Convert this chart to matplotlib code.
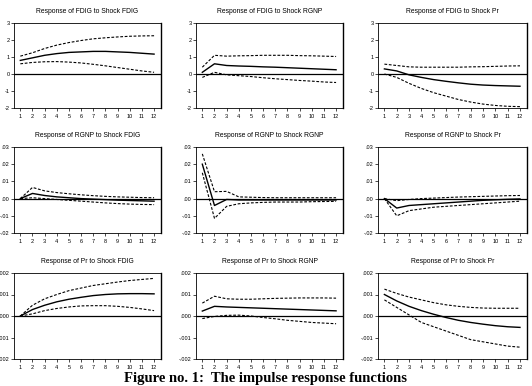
import numpy as np
import matplotlib
matplotlib.use("Agg")
import matplotlib.pyplot as plt

periods = list(range(1, 13))

# (response, shock) -> response, upper band, lower band
fdig_fdig = [0.80, 0.95, 1.10, 1.20, 1.27, 1.30, 1.33, 1.33, 1.30, 1.27, 1.22, 1.17]
fdig_fdig_up = [1.05, 1.25, 1.50, 1.70, 1.85, 1.97, 2.07, 2.13, 2.18, 2.22, 2.24, 2.25]
fdig_fdig_lo = [0.60, 0.68, 0.72, 0.73, 0.70, 0.65, 0.57, 0.48, 0.38, 0.28, 0.18, 0.10]

fdig_rgnp = [0.10, 0.60, 0.50, 0.47, 0.45, 0.42, 0.40, 0.37, 0.34, 0.31, 0.28, 0.25]
fdig_rgnp_up = [0.40, 1.10, 1.05, 1.07, 1.08, 1.10, 1.10, 1.10, 1.08, 1.07, 1.05, 1.03]
fdig_rgnp_lo = [-0.20, 0.10, -0.05, -0.10, -0.15, -0.22, -0.28, -0.33, -0.38, -0.42, -0.47, -0.50]

fdig_pr = [0.30, 0.18, -0.05, -0.20, -0.33, -0.43, -0.52, -0.60, -0.65, -0.68, -0.70, -0.72]
fdig_pr_up = [0.58, 0.50, 0.42, 0.40, 0.40, 0.40, 0.40, 0.42, 0.43, 0.45, 0.47, 0.48]
fdig_pr_lo = [0.00, -0.20, -0.55, -0.85, -1.10, -1.30, -1.50, -1.65, -1.77, -1.85, -1.90, -1.92]

rgnp_fdig = [0.0, 0.0030, 0.0018, 0.0010, 0.0005, 0.0, -0.0003, -0.0006, -0.0009, -0.0011, -0.0013, -0.0015]
rgnp_fdig_up = [0.0, 0.0065, 0.0045, 0.0035, 0.0028, 0.0022, 0.0017, 0.0013, 0.0010, 0.0008, 0.0006, 0.0005]
rgnp_fdig_lo = [0.0, 0.0005, 0.0, -0.0005, -0.0010, -0.0015, -0.0020, -0.0025, -0.0029, -0.0032, -0.0034, -0.0035]

rgnp_rgnp = [0.020, -0.0040, -0.0005, -0.0008, -0.0008, -0.0008, -0.0008, -0.0008, -0.0008, -0.0008, -0.0008, -0.0008]
rgnp_rgnp_up = [0.026, 0.0040, 0.0042, 0.0010, 0.0008, 0.0006, 0.0005, 0.0005, 0.0005, 0.0005, 0.0005, 0.0005]
rgnp_rgnp_lo = [0.015, -0.0115, -0.0045, -0.0030, -0.0025, -0.0022, -0.0020, -0.0020, -0.0020, -0.0018, -0.0017, -0.0016]

rgnp_pr = [0.0, -0.0055, -0.0040, -0.0035, -0.0030, -0.0025, -0.0020, -0.0015, -0.0010, -0.0007, -0.0004, -0.0002]
rgnp_pr_up = [0.0, -0.0012, -0.0005, 0.0, 0.0003, 0.0006, 0.0009, 0.0011, 0.0013, 0.0015, 0.0017, 0.0018]
rgnp_pr_lo = [0.0, -0.0100, -0.0070, -0.0060, -0.0050, -0.0045, -0.0040, -0.0035, -0.0030, -0.0025, -0.0020, -0.0015]

pr_fdig = [0.0, 0.00030, 0.00050, 0.00066, 0.00078, 0.00087, 0.00095, 0.00100, 0.00103, 0.00104, 0.00104, 0.00103]
pr_fdig_up = [0.0, 0.00050, 0.00080, 0.00100, 0.00118, 0.00130, 0.00142, 0.00150, 0.00158, 0.00165, 0.00170, 0.00175]
pr_fdig_lo = [0.0, 0.00010, 0.00025, 0.00035, 0.00042, 0.00047, 0.00048, 0.00048, 0.00045, 0.00040, 0.00033, 0.00025]

pr_rgnp = [0.00023, 0.00045, 0.00042, 0.00040, 0.00038, 0.00036, 0.00034, 0.00032, 0.00030, 0.00028, 0.00026, 0.00024]
pr_rgnp_up = [0.00060, 0.00092, 0.00080, 0.00078, 0.00078, 0.00080, 0.00082, 0.00083, 0.00084, 0.00084, 0.00084, 0.00083]
pr_rgnp_lo = [-0.00012, -0.00002, 0.00003, 0.00004, 0.0, -0.00007, -0.00013, -0.00020, -0.00025, -0.00030, -0.00033, -0.00036]

pr_pr = [0.00100, 0.00070, 0.00045, 0.00025, 0.00008, -0.00007, -0.00020, -0.00030, -0.00038, -0.00045, -0.00050, -0.00053]
pr_pr_up = [0.00125, 0.00105, 0.00088, 0.00075, 0.00062, 0.00052, 0.00045, 0.00040, 0.00037, 0.00036, 0.00036, 0.00036]
pr_pr_lo = [0.00075, 0.00040, 0.00005, -0.00030, -0.00050, -0.00070, -0.00090, -0.00110, -0.00120, -0.00130, -0.00140, -0.00145]

titles = [
    ["Response of FDIG to Shock FDIG", "Response of FDIG to Shock RGNP", "Response of FDIG to Shock Pr"],
    ["Response of RGNP to Shock FDIG", "Response of RGNP to Shock RGNP", "Response of RGNP to Shock Pr"],
    ["Response of Pr to Shock FDIG", "Response of Pr to Shock RGNP", "Response of Pr to Shock Pr"],
]
series = [
    [(fdig_fdig, fdig_fdig_up, fdig_fdig_lo), (fdig_rgnp, fdig_rgnp_up, fdig_rgnp_lo), (fdig_pr, fdig_pr_up, fdig_pr_lo)],
    [(rgnp_fdig, rgnp_fdig_up, rgnp_fdig_lo), (rgnp_rgnp, rgnp_rgnp_up, rgnp_rgnp_lo), (rgnp_pr, rgnp_pr_up, rgnp_pr_lo)],
    [(pr_fdig, pr_fdig_up, pr_fdig_lo), (pr_rgnp, pr_rgnp_up, pr_rgnp_lo), (pr_pr, pr_pr_up, pr_pr_lo)],
]
row_ticks = [
    [-2, -1, 0, 1, 2, 3],
    [-0.02, -0.01, 0.0, 0.01, 0.02, 0.03],
    [-0.002, -0.001, 0.0, 0.001, 0.002],
]
row_labels = [
    ["-2", "-1", "0", "1", "2", "3"],
    ["-.02", "-.01", ".00", ".01", ".02", ".03"],
    ["-.002", "-.001", ".000", ".001", ".002"],
]

plt.rcParams['font.family'] = ['Liberation Sans', 'DejaVu Sans']
fig = plt.figure(figsize=(5.32, 3.86), dpi=100)

W, H = 532, 386
col_px = [(14, 161), (196, 343), (378, 527)]
row_px = [(23, 108), (147, 233), (273, 359)]

for r in range(3):
    for c in range(3):
        x0, x1 = col_px[c]
        y0, y1 = row_px[r]
        ax = fig.add_axes([x0 / W, 1 - y1 / H, (x1 - x0) / W, (y1 - y0) / H])
        resp, up, lo = series[r][c]
        ax.axhline(0, color='black', lw=0.9)
        ax.plot(periods, resp, color='black', lw=1.0)
        ax.plot(periods, up, color='black', lw=0.8, ls=(0, (2.5, 1.5)))
        ax.plot(periods, lo, color='black', lw=0.8, ls=(0, (2.5, 1.5)))
        ax.set_xlim(0.48, 12.57)
        ax.set_ylim(row_ticks[r][0], row_ticks[r][-1])
        ax.set_xticks(periods)
        ax.set_xticklabels([str(p) for p in periods])
        ax.set_yticks(row_ticks[r])
        ax.set_yticklabels(row_labels[r])
        ax.tick_params(labelsize=4, length=2, width=0.5, pad=1.2, direction='out')
        ax.tick_params(axis='x', pad=2.5)
        for s in ax.spines.values():
            s.set_linewidth(0.6)
        ax.spines['right'].set_linewidth(1.0)
        ax.set_title(titles[r][c], fontsize=4.9, pad=7)

fig.text(0.5, 1 - 382 / H, "Figure no. 1:  The impulse response functions",
         ha='center', va='baseline', fontsize=10.5, fontweight='bold',
         family=['Liberation Serif', 'DejaVu Serif'])

fig.savefig("out.png", dpi=100)
